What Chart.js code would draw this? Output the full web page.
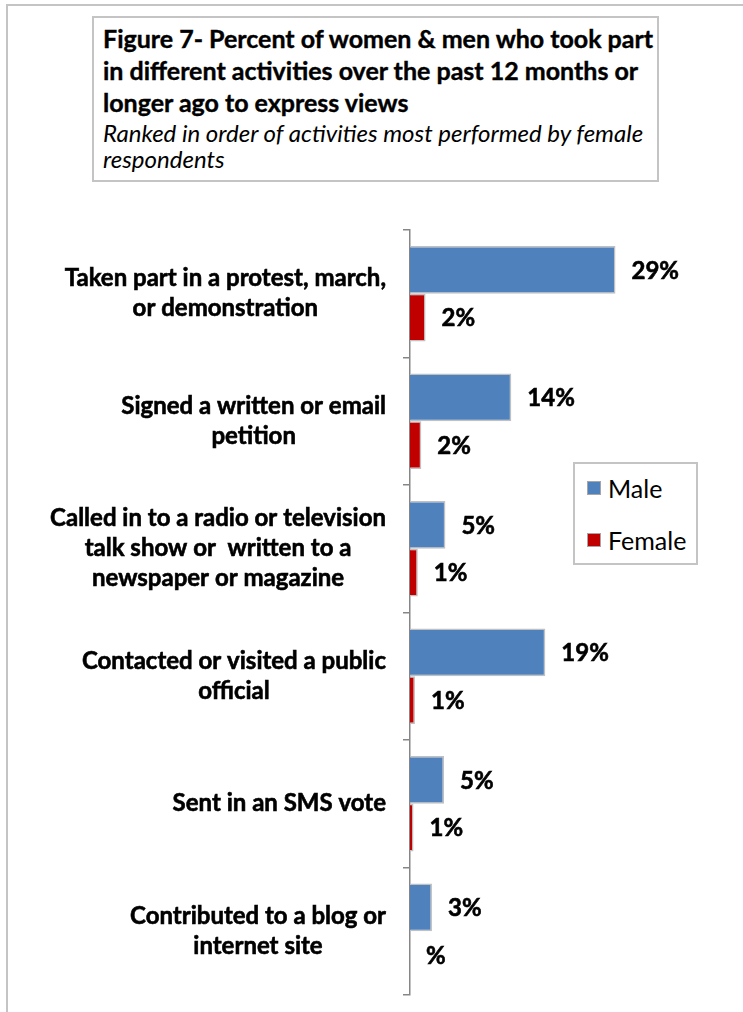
<!DOCTYPE html>
<html>
<head>
<meta charset="utf-8">
<title>Figure 7</title>
<script src="https://cdn.jsdelivr.net/npm/chart.js@4.4.0/dist/chart.umd.min.js"></script>
<style>
  html, body { margin: 0; padding: 0; background: #fff; }
  body { width: 743px; height: 1012px; position: relative; overflow: hidden; font-family: Lato, "Open Sans", sans-serif; color: #000; }
  #frame { position: absolute; left: 6px; top: 4px; width: 900px; height: 1100px; border: 2px solid #c4c4c4; }
  #chart { position: absolute; left: 0; top: 0; }
  #title { position: absolute; left: 92px; top: 16px; width: 567px; height: 166px; box-sizing: border-box;
           border: 2px solid #c4c4c4; padding: 4px 0 0 9px; background: #fff; }
  #title .main { font-weight: bold; font-size: 25px; line-height: 32px; -webkit-text-stroke: 0.4px #000; }
  #title .sub { font-style: italic; font-size: 24px; line-height: 26px; margin-top: 2px; }
  #legend { position: absolute; left: 573px; top: 462px; width: 125px; height: 103px; box-sizing: border-box;
            border: 2px solid #c4c4c4; padding-top: 9px; background: #fff; }
  #legend .item { display: flex; align-items: center; height: 30px; margin-bottom: 22px; font-size: 25px; }
  #legend .swatch { width: 14px; height: 14px; margin-left: 12px; margin-right: 7px; box-sizing: border-box; border: 1px solid #a6a6a6; }
</style>
</head>
<body>
<div id="frame"></div>
<canvas id="chart" width="743" height="1012"></canvas>
<div id="title">
  <div class="main">Figure 7- Percent of women &amp; men who took part<br>in different activities over the past 12 months or<br>longer ago to express views</div>
  <div class="sub">Ranked in order of activities most performed by female<br>respondents</div>
</div>
<div id="legend"></div>
<script>
// activities, one array of text lines per category
const activities = [
  ['Taken part in a protest, march,', 'or demonstration'],
  ['Signed a written or email', 'petition'],
  ['Called in to a radio or television', 'talk show or  written to a', 'newspaper or magazine'],
  ['Contacted or visited a public', 'official'],
  ['Sent in an SMS vote'],
  ['Contributed to a blog or', 'internet site']
];
const maleValues = [29, 14.3, 5, 19.1, 4.8, 3.1];
const femaleValues = [2.2, 1.6, 1.1, 0.7, 0.5, 0];

const BLUE = '#4f81bd';
const RED = '#c00000';
const EDGE = '#c0c0c0';
const AXIS = '#868686';
const LABEL_FONT = 'bold 24px Lato, "Open Sans", sans-serif';

const pct = v => (v > 0 ? Math.round(v) : '') + '%';

// bold text with a hairline outline so it reads a little heavier
function heavyText(ctx, s, x, y) {
  ctx.fillText(s, x, y);
  ctx.strokeText(s, x, y);
}

// percentage labels just past the end of every bar
const barValueLabels = {
  id: 'barValueLabels',
  afterDatasetsDraw(chart) {
    const ctx = chart.ctx;
    const xs = chart.scales.x;
    ctx.save();
    ctx.font = LABEL_FONT;
    ctx.fillStyle = '#000';
    ctx.strokeStyle = '#000';
    ctx.lineWidth = 0.6;
    ctx.textAlign = 'left';
    ctx.textBaseline = 'middle';
    chart.data.datasets.forEach((ds, di) => {
      chart.getDatasetMeta(di).data.forEach((bar, i) => {
        heavyText(ctx, pct(ds.data[i]), xs.getPixelForValue(ds.data[i]) + 16, bar.y + 1);
      });
    });
    ctx.restore();
  }
};

// category names: each block sits right next to the axis, its lines centred on each other
const categoryLabels = {
  id: 'categoryLabels',
  afterDraw(chart) {
    const ys = chart.scales.y;
    const ctx = chart.ctx;
    const right = ys.right - 7 - 17;
    const lineH = 30;
    ctx.save();
    ctx.font = LABEL_FONT;
    ctx.fillStyle = '#000';
    ctx.strokeStyle = '#000';
    ctx.lineWidth = 0.6;
    ctx.textAlign = 'center';
    ctx.textBaseline = 'middle';
    chart.data.labels.forEach((lines, i) => {
      const w = Math.max(...lines.map(l => ctx.measureText(l).width));
      const cx = right - w / 2;
      const cy = ys.getPixelForTick(i);
      lines.forEach((l, k) => heavyText(ctx, l, cx, cy + (k - (lines.length - 1) / 2) * lineH));
    });
    ctx.restore();
  }
};

const chart = new Chart(document.getElementById('chart'), {
  type: 'bar',
  data: {
    labels: activities,
    datasets: [
      { label: 'Male', data: maleValues, backgroundColor: BLUE },
      { label: 'Female', data: femaleValues, backgroundColor: RED }
    ]
  },
  options: {
    indexAxis: 'y',
    responsive: false,
    animation: false,
    layout: { padding: { left: 10, top: 230, right: 85, bottom: 17 } },
    datasets: {
      bar: {
        categoryPercentage: 0.75,
        barPercentage: 1,
        borderColor: EDGE,
        borderWidth: 1.5
      }
    },
    scales: {
      x: { display: false, min: 0, max: 35 },
      y: {
        grid: { drawOnChartArea: false, drawTicks: true, tickLength: 7, color: AXIS, lineWidth: 1.5, offset: true },
        border: { color: AXIS, width: 1.5 },
        ticks: { display: false },
        afterFit(scale) { scale.width = 400; }
      }
    },
    plugins: {
      legend: { display: false },
      tooltip: { enabled: false }
    }
  },
  plugins: [barValueLabels, categoryLabels]
});

// legend box built from the chart's own datasets
const legendEl = document.getElementById('legend');
chart.data.datasets.forEach(ds => {
  const item = document.createElement('div');
  item.className = 'item';
  const sw = document.createElement('span');
  sw.className = 'swatch';
  sw.style.background = ds.backgroundColor;
  const txt = document.createElement('span');
  txt.textContent = ds.label;
  item.appendChild(sw);
  item.appendChild(txt);
  legendEl.appendChild(item);
});
</script>
</body>
</html>
